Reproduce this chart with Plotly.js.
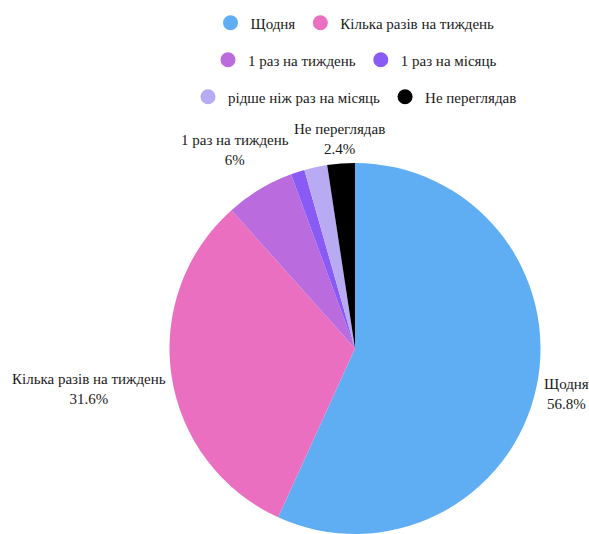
<!DOCTYPE html>
<html>
<head>
<meta charset="utf-8">
<script src="https://cdn.plot.ly/plotly-3.0.1.min.js"></script>
<style>
html, body { margin: 0; padding: 0; overflow: hidden; background: #fff; }
#chart { width: 589px; height: 560px; }
</style>
</head>
<body>
<div id="chart"></div>
<script>
const categories = ['Щодня', 'Кілька разів на тиждень', '1 раз на тиждень', '1 раз на місяць', 'рідше ніж раз на місяць', 'Не переглядав'];
const values = [56.8, 31.6, 6.0, 1.2, 2.0, 2.4];
const colors = ['#5FAEF4', '#EA6FC0', '#BA6BDE', '#8A5AF5', '#B9AAF4', '#000000'];
const showLabel = [true, true, true, false, false, true];
const legendRows = [[0, 1], [2, 3], [4, 5]];

const FONT = "'Liberation Serif', 'Times New Roman', serif";
const FS = 15;
const TXT = '#1a1a1a';

const W = 589, H = 560, T = 162.5, B = 25.5, L = 131, Rm = 10;
const plotW = W - L - Rm, plotH = H - T - B;
const cx = L + plotW / 2, cy = T + plotH / 2;
const R = Math.min(plotW, plotH) / 2;

const traces = [{
  type: 'pie',
  labels: categories,
  values: values,
  sort: false,
  direction: 'clockwise',
  rotation: 0,
  marker: { colors: colors, line: { width: 0 } },
  textinfo: 'none',
  showlegend: false,
  hoverinfo: 'label+percent'
}];

const legendNames = ['legend', 'legend2', 'legend3'];
legendRows.forEach((row, r) => {
  row.forEach(i => {
    traces.push({
      type: 'scatter',
      mode: 'markers',
      x: [null], y: [null],
      name: categories[i],
      marker: { color: colors[i], size: 15, symbol: 'circle' },
      showlegend: true,
      legend: legendNames[r],
      hoverinfo: 'skip'
    });
  });
});

// outside labels for the slices, centred on each slice's mid-angle ray
const ctx = document.createElement('canvas').getContext('2d');
ctx.font = FS + 'px ' + FONT;
const total = values.reduce((a, b) => a + b, 0);
const annotations = [];
let cum = 0;
values.forEach((v, i) => {
  const mid = (cum + v / 2) / total * 2 * Math.PI;
  cum += v;
  if (!showLabel[i]) return;
  const pct = +((v / total) * 100).toFixed(1) + '%';
  const ux = Math.sin(mid), uy = -Math.cos(mid);
  const w = Math.max(ctx.measureText(categories[i]).width, ctx.measureText(pct).width);
  const halfH = 16, gap = 5;
  const e = Math.abs(ux) * w / 2 + Math.abs(uy) * halfH + gap;
  const px = cx + (R + e) * ux;
  const pyy = cy + (R + e) * uy;
  annotations.push({
    xref: 'paper', yref: 'paper',
    x: (px - L) / plotW, y: (H - B - pyy) / plotH,
    xanchor: 'center', yanchor: 'middle', align: 'center',
    showarrow: false,
    text: categories[i] + '<br>' + pct,
    font: { family: FONT, size: FS, color: TXT }
  });
});

const rowY = [23, 60, 97];

const layout = {
  width: W,
  height: H,
  margin: { l: L, r: Rm, t: T, b: B, autoexpand: false },
  paper_bgcolor: '#ffffff',
  plot_bgcolor: '#ffffff',
  font: { family: FONT, size: FS, color: TXT },
  xaxis: { visible: false },
  yaxis: { visible: false },
  showlegend: true,
  annotations: annotations
};
legendNames.forEach((ln, r) => {
  layout[ln] = {
    orientation: 'h',
    xref: 'paper', yref: 'container',
    x: 0.5, xanchor: 'center',
    y: 1 - rowY[r] / H, yanchor: 'middle',
    font: { family: FONT, size: FS, color: TXT },
    bgcolor: 'rgba(0,0,0,0)'
  };
});

Plotly.newPlot('chart', traces, layout, { displayModeBar: false, staticPlot: true });
</script>
</body>
</html>
